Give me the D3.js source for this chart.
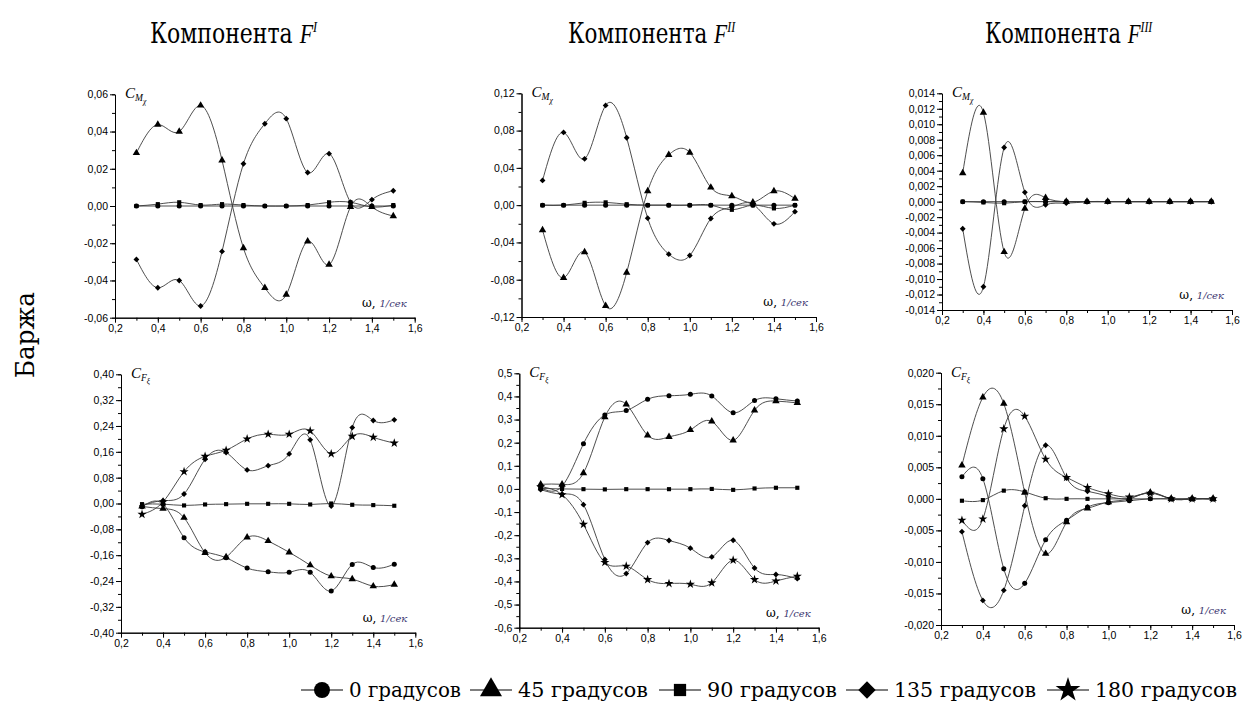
<!DOCTYPE html>
<html>
<head>
<meta charset="utf-8">
<script src="https://cdn.jsdelivr.net/npm/d3@7"></script>
<style>
  body { margin: 0; background: #fff; }
  svg { display: block; }
</style>
</head>
<body>
<svg id="chart" width="1251" height="715"></svg>
<script>
// ---- data ----------------------------------------------------------------
const omega = [0.3, 0.4, 0.5, 0.6, 0.7, 0.8, 0.9, 1.0, 1.1, 1.2, 1.3, 1.4, 1.5];
const headings = [0, 45, 90, 135, 180];
const headingLabels = ["0 градусов", "45 градусов", "90 градусов", "135 градусов", "180 градусов"];
const columnTitles = ["I", "II", "III"];
const xTickValues = [0.2, 0.4, 0.6, 0.8, 1.0, 1.2, 1.4, 1.6];

// roll moment coefficient C_Mx, component F^I
const mx1_0   = [0, 0, 0, 0, 0, 0, 0, 0, 0, 0, 0, 0, 0];
const mx1_45  = [0.0285, 0.0437, 0.0400, 0.0540, 0.0245, -0.0226, -0.0440, -0.0476, -0.0190, -0.0315, -0.0005, -0.0005, -0.0054];
const mx1_90  = [0, 0.0010, 0.0020, 0.0005, 0.0010, 0.0005, 0, 0, 0.0005, 0.0020, 0.0020, -0.0005, 0.0005];
const mx1_135 = [-0.0287, -0.0439, -0.0400, -0.0537, -0.0244, 0.0227, 0.0442, 0.0469, 0.0180, 0.0281, 0.0020, 0.0034, 0.0082];

// roll moment coefficient C_Mx, component F^II
const mx2_0   = [0, 0, 0, 0, 0, 0, 0, 0, 0, 0, 0, 0, 0];
const mx2_45  = [-0.0268, -0.0780, -0.0504, -0.1080, -0.0723, 0.0150, 0.0540, 0.0565, 0.0190, 0.0097, 0.0030, 0.0150, 0.0070];
const mx2_90  = [0, 0, 0.0025, 0.0030, 0.0010, 0, 0, 0, 0, -0.0050, 0, -0.0035, 0];
const mx2_135 = [0.0265, 0.0780, 0.0497, 0.1070, 0.0723, -0.0140, -0.0526, -0.0540, -0.0143, -0.0020, 0.0010, -0.0200, -0.0070];

// roll moment coefficient C_Mx, component F^III
const mx3_0   = [0, 0, 0, 0, 0, 0, 0, 0, 0, 0, 0, 0, 0];
const mx3_45  = [0.0037, 0.0115, -0.0065, -0.0009, 0.0005, 0, 0, 0, 0, 0, 0, 0, 0];
const mx3_90  = [0, -0.0001, -0.0002, 0, 0, 0, 0, 0, 0, 0, 0, 0, 0];
const mx3_135 = [-0.0035, -0.0110, 0.0070, 0.0012, -0.0004, -0.0002, 0, 0, 0, 0, 0, 0, 0];

// force coefficient C_Fξ, component F^I
const fx1_0   = [-0.010, -0.002, -0.106, -0.150, -0.168, -0.200, -0.2115, -0.213, -0.213, -0.271, -0.1886, -0.198, -0.188];
const fx1_45  = [-0.009, -0.016, -0.044, -0.1525, -0.166, -0.105, -0.116, -0.151, -0.191, -0.225, -0.234, -0.256, -0.251];
const fx1_90  = [-0.002, -0.002, -0.006, -0.003, -0.002, -0.001, -0.001, -0.001, -0.003, 0.000, -0.004, -0.005, -0.007];
const fx1_135 = [-0.007, 0.009, 0.0295, 0.137, 0.158, 0.104, 0.117, 0.1535, 0.197, -0.008, 0.235, 0.257, 0.259];
const fx1_180 = [-0.0336, 0.005, 0.0986, 0.146, 0.165, 0.200, 0.2145, 0.2145, 0.2248, 0.154, 0.208, 0.205, 0.187];

// force coefficient C_Fξ, component F^II
const fx2_0   = [0.005, 0.012, 0.195, 0.320, 0.339, 0.388, 0.403, 0.409, 0.402, 0.329, 0.382, 0.390, 0.380];
const fx2_45  = [0.020, 0.020, 0.069, 0.311, 0.366, 0.232, 0.225, 0.255, 0.292, 0.210, 0.340, 0.380, 0.372];
const fx2_90  = [0.002, 0, -0.001, -0.002, -0.001, -0.001, -0.001, -0.001, 0, -0.004, 0.002, 0.005, 0.005];
const fx2_135 = [-0.003, -0.022, -0.068, -0.305, -0.366, -0.232, -0.223, -0.256, -0.294, -0.222, -0.342, -0.370, -0.388];
const fx2_180 = [0.010, -0.025, -0.153, -0.318, -0.334, -0.392, -0.409, -0.412, -0.406, -0.308, -0.392, -0.398, -0.377];

// force coefficient C_Fξ, component F^III
const fx3_0   = [0.0035, 0.0032, -0.0111, -0.0134, -0.0065, -0.0034, -0.0013, -0.0006, -0.0003, 0, 0, 0, 0];
const fx3_45  = [0.0053, 0.0161, 0.0151, 0.0010, -0.0087, -0.0037, -0.0015, -0.0005, 0, 0.0010, 0, 0, 0];
const fx3_90  = [-0.0003, -0.0002, 0.0013, 0.0011, 0.0001, 0, 0, 0, 0, 0, 0, 0, 0];
const fx3_135 = [-0.0052, -0.0161, -0.0145, -0.0011, 0.0085, 0.0033, 0.0012, 0.0004, 0.0001, 0.0010, 0, 0, 0];
const fx3_180 = [-0.0034, -0.0032, 0.0111, 0.0131, 0.0063, 0.0034, 0.0018, 0.0008, 0.0003, 0.0009, 0, 0, 0];

// ---- panels ----------------------------------------------------------------
const panels = [
  { box: [115, 414.7, 94.3, 317.7], domain: [-0.06, 0.06], step: 0.02, fmt: ".2f", kind: "M",
    series: { 0: mx1_0, 90: mx1_90, 45: mx1_45, 135: mx1_135 } },
  { box: [521.5, 816, 93.3, 317], domain: [-0.12, 0.12], step: 0.04, fmt: ".2f", kind: "M",
    series: { 0: mx2_0, 90: mx2_90, 45: mx2_45, 135: mx2_135 } },
  { box: [942, 1232, 93.3, 310], domain: [-0.014, 0.014], step: 0.002, fmt: ".3f", kind: "M",
    series: { 0: mx3_0, 90: mx3_90, 45: mx3_45, 135: mx3_135 } },
  { box: [121, 415.3, 374.3, 632.7], domain: [-0.40, 0.40], step: 0.08, fmt: ".2f", kind: "F",
    series: { 90: fx1_90, 0: fx1_0, 45: fx1_45, 135: fx1_135, 180: fx1_180 } },
  { box: [519.3, 818.7, 373.3, 627.7], domain: [-0.6, 0.5], step: 0.1, fmt: ".1f", kind: "F",
    series: { 90: fx2_90, 0: fx2_0, 45: fx2_45, 135: fx2_135, 180: fx2_180 } },
  { box: [941, 1234, 372.7, 625], domain: [-0.020, 0.020], step: 0.005, fmt: ".3f", kind: "F",
    series: { 90: fx3_90, 0: fx3_0, 45: fx3_45, 135: fx3_135, 180: fx3_180 } }
];

const locale = d3.formatLocale({ decimal: ",", thousands: " ", grouping: [3], currency: ["", ""], minus: "-" });

const svg = d3.select("#chart");
svg.append("rect").attr("width", 1251).attr("height", 715).attr("fill", "#fff");

const SANS = "'Liberation Sans', Arial, sans-serif";
const SERIF = "'Liberation Serif', 'DejaVu Serif', serif";
const SERIF_CYR = "'DejaVu Serif', 'Liberation Serif', serif";

// marker shapes per heading; the diamond is a square turned by 45°
function markerPath(h, size) {
  const types = { 0: d3.symbolCircle, 45: d3.symbolTriangle, 90: d3.symbolSquare, 135: d3.symbolSquare, 180: d3.symbolStar };
  return d3.symbol().type(types[h]).size(size)();
}
const plotSizes = { 0: 20, 45: 24, 90: 17, 135: 17, 180: 26 };

function ticksBetween(lo, hi, step) {
  const n = Math.round((hi - lo) / step);
  return d3.range(n + 1).map(i => +(lo + i * step).toFixed(6));
}

panels.forEach(p => {
  const [x0, x1, yT, yB] = p.box;
  const x = d3.scaleLinear().domain([0.2, 1.6]).range([x0, x1]);
  const y = d3.scaleLinear().domain(p.domain).range([yB, yT]);
  const g = svg.append("g");

  // minor ticks
  const yMinor = ticksBetween(p.domain[0], p.domain[1], p.step / 2);
  const xMinor = ticksBetween(0.2, 1.6, 0.1);
  g.append("g").attr("transform", `translate(${x0},0)`)
    .call(d3.axisLeft(y).tickValues(yMinor).tickSize(3).tickSizeOuter(0).tickFormat(""));
  g.append("g").attr("transform", `translate(0,${yB})`)
    .call(d3.axisBottom(x).tickValues(xMinor).tickSize(3).tickSizeOuter(0).tickFormat(""));

  // major ticks with labels
  const yMajor = ticksBetween(p.domain[0], p.domain[1], p.step);
  const yAx = g.append("g").attr("transform", `translate(${x0},0)`)
    .call(d3.axisLeft(y).tickValues(yMajor).tickSize(5).tickSizeOuter(0).tickPadding(2)
      .tickFormat(locale.format(p.fmt)));
  const xAx = g.append("g").attr("transform", `translate(0,${yB})`)
    .call(d3.axisBottom(x).tickValues(xTickValues).tickSize(5).tickSizeOuter(0).tickPadding(2)
      .tickFormat(locale.format(".1f")));
  [yAx, xAx].forEach(a => {
    a.selectAll("text").attr("font-family", SANS).attr("font-size", 10.5).attr("fill", "#000");
  });
  g.selectAll(".domain, .tick line").attr("stroke", "#000").attr("stroke-width", 1);

  // curves
  const line = d3.line().x(d => x(d[0])).y(d => y(d[1])).curve(d3.curveNatural);
  Object.keys(p.series).forEach(h => {
    const pts = omega.map((w, i) => [w, p.series[h][i]]);
    g.append("path").attr("d", line(pts)).attr("fill", "none")
      .attr("stroke", "#3a3a3a").attr("stroke-width", 0.9);
  });
  // markers
  Object.keys(p.series).forEach(h => {
    const pts = omega.map((w, i) => [w, p.series[h][i]]);
    g.append("g").selectAll("path").data(pts).join("path")
      .attr("d", markerPath(+h, plotSizes[h]))
      .attr("transform", d => `translate(${x(d[0])},${y(d[1])})` + (+h === 135 ? " rotate(45)" : ""))
      .attr("fill", "#000");
  });

  // y-axis quantity label
  const lab = g.append("text").attr("x", x0 + 10).attr("y", yT + 4)
    .attr("font-family", SERIF).attr("font-style", "italic").attr("font-size", 15);
  lab.append("tspan").text("C");
  lab.append("tspan").attr("font-size", 9.5).attr("dy", 3).text(p.kind);
  lab.append("tspan").attr("font-size", 7.5).attr("dy", 3).text(p.kind === "M" ? "χ" : "ξ");

  // x-axis quantity label
  const wl = g.append("text").attr("x", x1 - 8).attr("y", yB - 11).attr("text-anchor", "end")
    .attr("font-family", SERIF_CYR).attr("font-size", 12);
  wl.append("tspan").text("ω,  ");
  wl.append("tspan").attr("font-style", "italic").attr("font-size", 10).attr("fill", "#3b3670").text("1/сек");
});

// ---- column titles: one text each, squeezed horizontally to the column width
const titleX = [150, 568, 985];
const titleWidth = 168;
columnTitles.forEach((t, i) => {
  const tt = svg.append("text").attr("x", 0).attr("y", 0)
    .attr("font-family", SERIF_CYR).attr("font-size", 27);
  tt.append("tspan").text("Компонента ");
  tt.append("tspan").attr("font-family", SERIF).attr("font-style", "italic").text("F");
  tt.append("tspan").attr("font-family", SERIF).attr("font-style", "italic")
    .attr("font-size", 15).attr("dy", -11).text(t);
  const w = tt.node().getBBox().width || titleWidth;
  tt.attr("transform", `translate(${titleX[i]},43) scale(${titleWidth / w},1)`);
});

// ---- row label -------------------------------------------------------------
svg.append("text").attr("transform", "translate(34,335) rotate(-90)").attr("text-anchor", "middle")
  .attr("font-family", SERIF_CYR).attr("font-size", 26)
  .attr("textLength", 86).attr("lengthAdjust", "spacingAndGlyphs").text("Баржа");

// ---- legend ----------------------------------------------------------------
const legendX = [322, 491, 680, 867, 1068];
const legendTextWidths = [112, 130, 130, 142, 142];
const legendSizes = { 0: 200, 45: 210, 90: 150, 135: 150, 180: 190 };
const lg = svg.append("g");
headings.forEach((h, i) => {
  const cx = legendX[i], cy = 690;
  lg.append("line").attr("x1", cx - 21).attr("x2", cx + 21).attr("y1", cy).attr("y2", cy)
    .attr("stroke", "#000").attr("stroke-width", 1.2);
  lg.append("path").attr("d", markerPath(h, legendSizes[h]))
    .attr("transform", `translate(${cx},${cy})` + (h === 135 ? " rotate(45)" : ""))
    .attr("fill", "#000");
  lg.append("text").attr("x", cx + 27).attr("y", cy + 7)
    .attr("font-family", SERIF_CYR).attr("font-size", 20)
    .attr("textLength", legendTextWidths[i]).attr("lengthAdjust", "spacingAndGlyphs")
    .text(headingLabels[i]);
});
</script>
</body>
</html>
